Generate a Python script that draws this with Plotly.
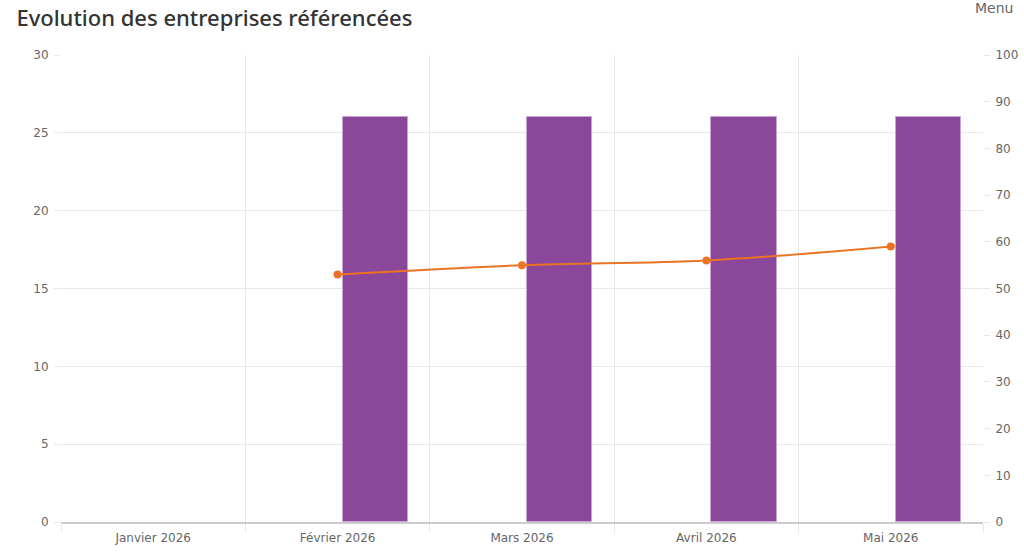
import plotly.graph_objects as go

months = ['Janvier 2026', 'Février 2026', 'Mars 2026', 'Avril 2026', 'Mai 2026']
entreprises = [None, 26, 26, 26, 26]
evolution = [None, 53, 55, 56, 59]

fig = go.Figure()

fig.add_trace(go.Bar(
    x=months, y=entreprises,
    marker=dict(color='#8b4799', line=dict(color='#c9a3d3', width=1)),
    offset=0.027, width=0.355,
    name='Entreprises', showlegend=False
))

fig.add_trace(go.Scatter(
    x=months, y=evolution, yaxis='y2',
    mode='lines+markers',
    line=dict(color='#ea7424', width=2, shape='spline'),
    marker=dict(color='#ea7424', size=8),
    name='Evolution', showlegend=False
))

tick_font = dict(family='DejaVu Sans, sans-serif', size=12, color='#666666')

fig.update_layout(
    width=1024, height=553,
    margin=dict(l=61, r=41, t=55, b=31),
    paper_bgcolor='white', plot_bgcolor='white',
    title=dict(
        text='Evolution des entreprises référencées',
        x=0.016, xanchor='left', y=0.967, yanchor='middle',
        font=dict(family='Noto Sans, sans-serif', size=22, color='#333333', weight=500)
    ),
    xaxis=dict(
        tickson='boundaries', showgrid=True, gridcolor='#e8e8e8',
        ticks='outside', ticklen=9, tickcolor='#e8e8e8',
        showline=True, linecolor='#cccccc', linewidth=2,
        tickfont=tick_font, range=[-0.5, 4.5], ticklabelstandoff=4,
        automargin=False
    ),
    yaxis=dict(
        range=[0, 30], dtick=5, showgrid=True, gridcolor='#e8e8e8',
        ticks='outside', ticklen=6, tickcolor='#e8e8e8',
        zeroline=False, showline=False, tickfont=tick_font,
        ticklabelstandoff=3, automargin=False
    ),
    yaxis2=dict(
        range=[0, 100], dtick=10, overlaying='y', side='right',
        showgrid=False, zeroline=False, showline=False,
        ticks='outside', ticklen=6, tickcolor='#e8e8e8',
        tickfont=tick_font, ticklabelstandoff=3, automargin=False
    ),
    bargap=0,
    annotations=[dict(
        text='Menu', xref='paper', yref='paper', x=1.035, y=1.1,
        xanchor='right', yanchor='middle', showarrow=False,
        font=dict(family='DejaVu Sans, sans-serif', size=14, color='#666666')
    )]
)

fig.write_html('out.html', config={'displayModeBar': False},
               post_script="document.body.style.margin='0';")
